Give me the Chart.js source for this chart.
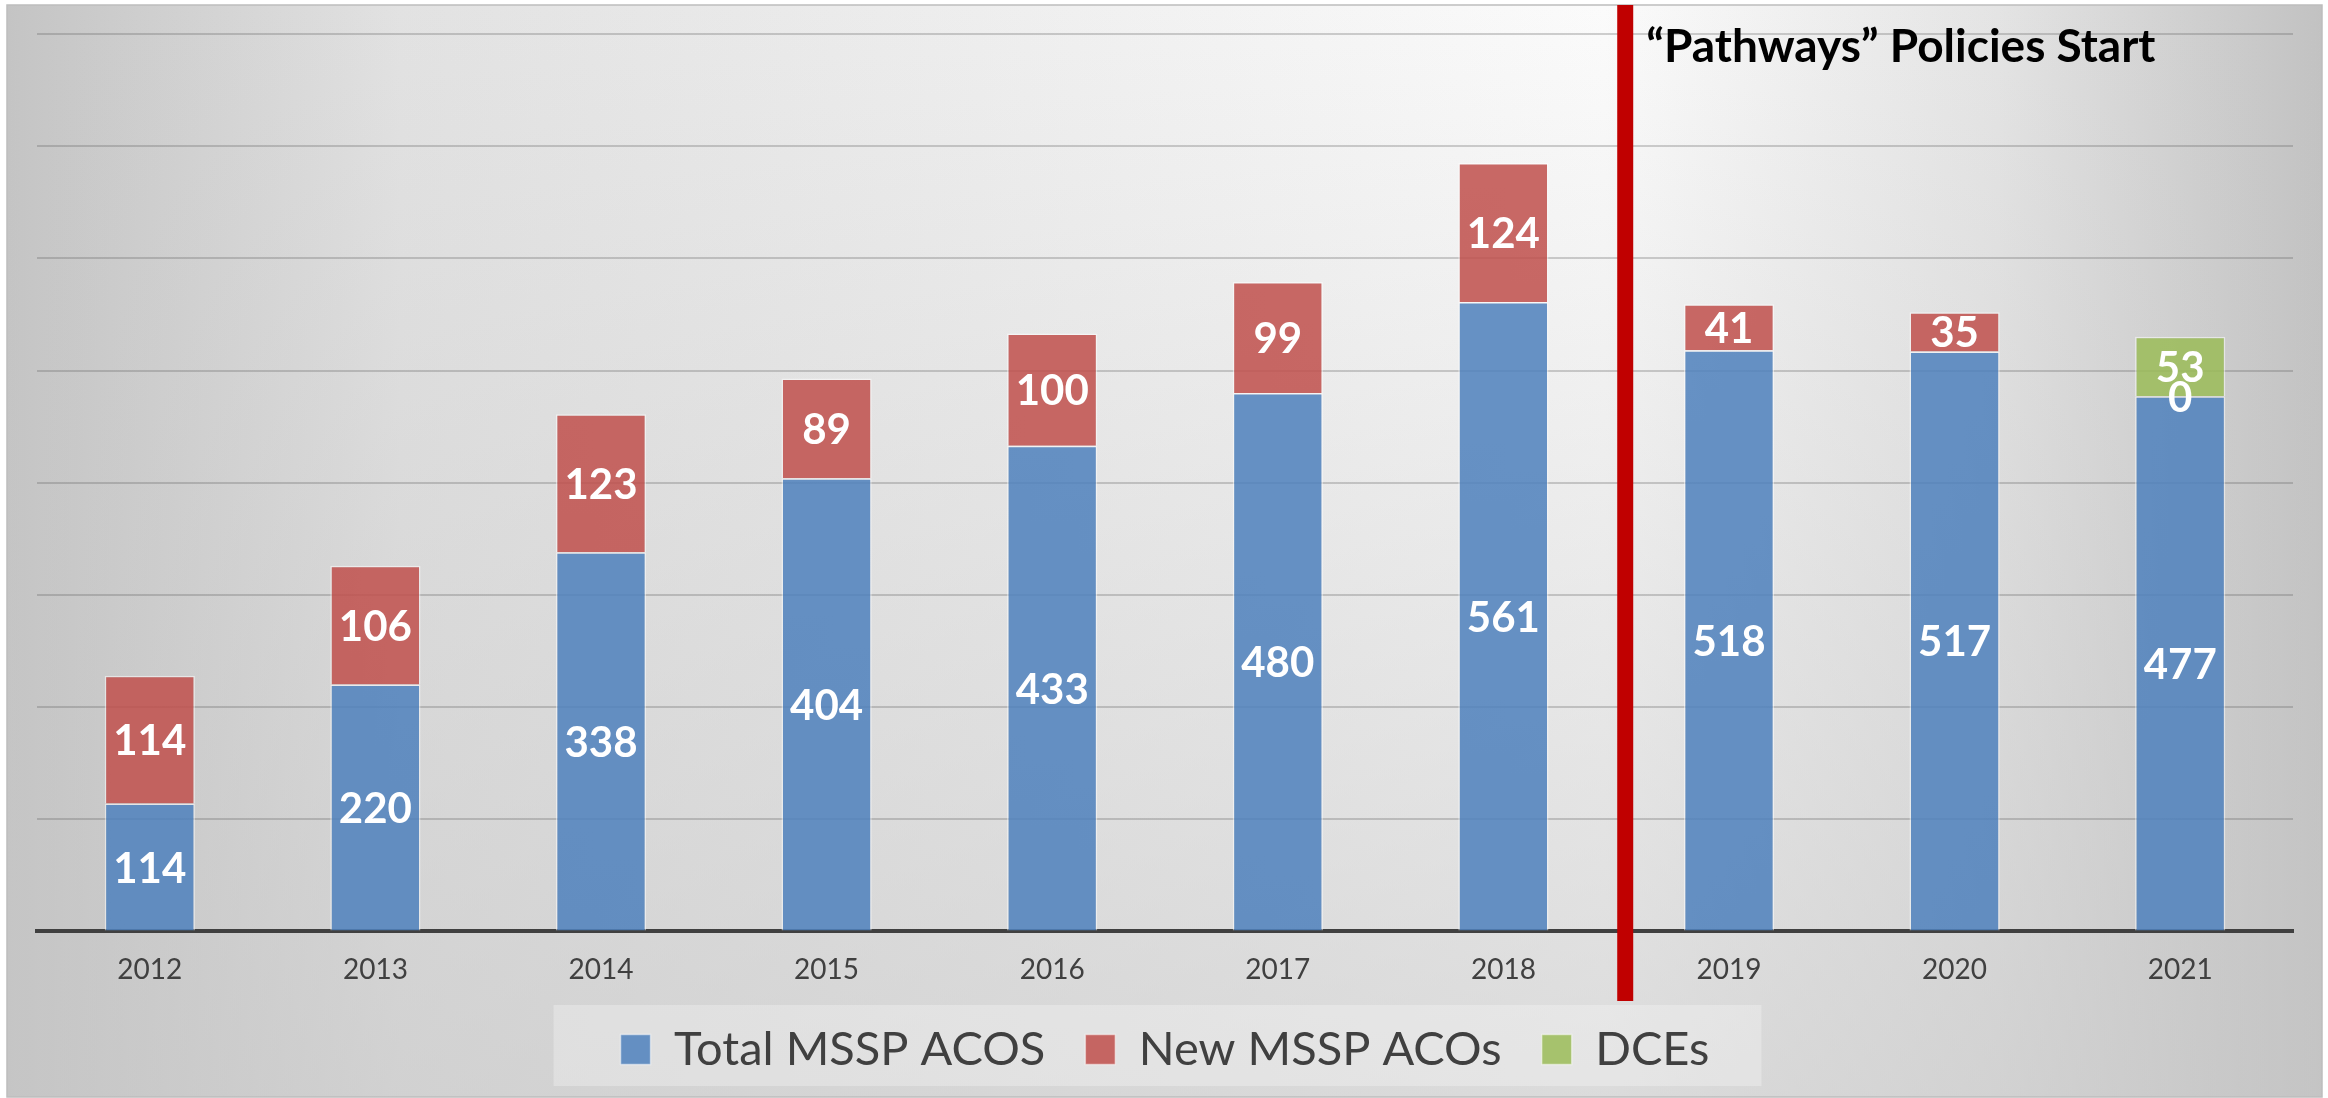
<!DOCTYPE html>
<html>
<head>
<meta charset="utf-8">
<script src="https://cdn.jsdelivr.net/npm/chart.js@4.4.1/dist/chart.umd.min.js"></script>
<style>
  body { margin: 0; background: #fff; }
  #wrap { width: 2328px; height: 1098px; }
</style>
</head>
<body>
<div id="wrap"><canvas id="acoChart" width="2328" height="1098"></canvas></div>
<script>
const years = ["2012", "2013", "2014", "2015", "2016", "2017", "2018", "2019", "2020", "2021"];
const totalAcos = [114, 220, 338, 404, 433, 480, 561, 518, 517, 477];
const newAcos = [114, 106, 123, 89, 100, 99, 124, 41, 35, 0];
const dces = [null, null, null, null, null, null, null, null, null, 53];
const seriesNames = ["Total MSSP ACOS", "New MSSP ACOs", "DCEs"];
const pathwaysLabel = "\u201cPathways\u201d Policies Start";
const pathwaysIndex = 6.54; // between 2018 and 2019

const FONT = "Lato";

// grey frame with soft light spot near the top right
const backgroundPlugin = {
  id: "background",
  beforeDraw(chart) {
    const { ctx, width, height } = chart;
    const x0 = 7, y0 = 5, w = width - 13, h = height - 6;
    ctx.save();
    const hg = ctx.createLinearGradient(x0, 0, x0 + w, 0);
    hg.addColorStop(0, "#c4c4c4");
    hg.addColorStop(0.17, "#e2e2e2");
    hg.addColorStop(0.69, "#fbfbfb");
    hg.addColorStop(0.86, "#e4e4e4");
    hg.addColorStop(1, "#c2c2c2");
    ctx.fillStyle = hg;
    ctx.fillRect(x0, y0, w, h);
    const vg = ctx.createLinearGradient(0, y0, 0, y0 + h);
    vg.addColorStop(0, "rgba(198,198,198,0)");
    vg.addColorStop(1, "rgba(198,198,198,0.6)");
    ctx.fillStyle = vg;
    ctx.fillRect(x0, y0, w, h);
    ctx.strokeStyle = "#bdbdbd";
    ctx.lineWidth = 1.5;
    ctx.strokeRect(x0, y0, w, h);

    // light panel behind the legend
    const boxes = chart.legend && chart.legend.legendHitBoxes;
    if (boxes && boxes.length) {
      const first = boxes[0], last = boxes[boxes.length - 1];
      const left = first.left - 67, right = last.left + last.width + 52;
      ctx.fillStyle = "rgba(255,255,255,0.28)";
      ctx.fillRect(left, 1005, right - left, 81);
    }
    ctx.restore();
  }
};

const valueLabelPlugin = {
  id: "valueLabels",
  afterDatasetsDraw(chart) {
    const { ctx } = chart;
    ctx.save();
    ctx.fillStyle = "#ffffff";
    ctx.font = "bold 42px " + FONT;
    ctx.textAlign = "center";
    ctx.textBaseline = "middle";
    chart.data.datasets.forEach((ds, di) => {
      const meta = chart.getDatasetMeta(di);
      meta.data.forEach((bar, i) => {
        const v = ds.data[i];
        if (v === null || v === undefined) return;
        const props = bar.getProps(["x", "y", "base"], true);
        ctx.fillText(String(v), props.x, (props.y + props.base) / 2 + 2);
      });
    });
    ctx.restore();
  },
  afterDraw(chart) {
    const { ctx } = chart;
    const xs = chart.scales.x;
    const a = xs.getPixelForValue(Math.floor(pathwaysIndex));
    const b = xs.getPixelForValue(Math.floor(pathwaysIndex) + 1);
    const lineX = a + (b - a) * (pathwaysIndex % 1);
    ctx.save();
    ctx.fillStyle = "#c00000";
    ctx.fillRect(lineX - 8, 5, 16, 996);
    ctx.fillStyle = "#000000";
    ctx.font = "bold 46px " + FONT;
    ctx.textAlign = "left";
    ctx.textBaseline = "alphabetic";
    ctx.fillText(pathwaysLabel, lineX + 21, 62);
    ctx.restore();
  }
};

const edge = "rgba(255,255,255,0.5)";

const chart = new Chart(document.getElementById("acoChart"), {
  type: "bar",
  data: {
    labels: years,
    datasets: [
      {
        label: seriesNames[0],
        data: totalAcos,
        backgroundColor: "rgba(79,129,189,0.86)",
        borderColor: edge,
        borderWidth: 1.5,
      },
      {
        label: seriesNames[1],
        data: newAcos,
        backgroundColor: "rgba(192,80,77,0.86)",
        borderColor: edge,
        borderWidth: 1.5,
      },
      {
        label: seriesNames[2],
        data: dces,
        backgroundColor: "rgba(155,187,89,0.86)",
        borderColor: edge,
        borderWidth: 1.5,
      },
    ],
  },
  options: {
    responsive: false,
    animation: false,
    devicePixelRatio: 1,
    barPercentage: 0.4,
    categoryPercentage: 1.0,
    layout: {
      padding: { left: 37, right: 35, top: 34, bottom: 15 },
    },
    plugins: {
      legend: {
        position: "bottom",
        labels: {
          boxWidth: 30,
          boxHeight: 30,
          padding: 40,
          color: "#404040",
          font: { family: FONT, size: 47 },
        },
      },
      tooltip: { enabled: false },
    },
    scales: {
      x: {
        stacked: true,
        grid: { display: false, drawTicks: false },
        border: { display: true, color: "#404040", width: 4 },
        ticks: {
          color: "#404040",
          padding: 22,
          font: { family: FONT, size: 28 },
        },
        afterFit(scale) {
          // pull the plot down so the year labels sit close to the legend
          scale.height -= 23;
        },
      },
      y: {
        stacked: true,
        min: 0,
        max: 800,
        ticks: { display: false, stepSize: 100 },
        grid: { color: "rgba(90,90,90,0.28)", lineWidth: 2, drawTicks: false },
        border: { display: false },
      },
    },
  },
  plugins: [backgroundPlugin, valueLabelPlugin],
});
</script>
</body>
</html>
